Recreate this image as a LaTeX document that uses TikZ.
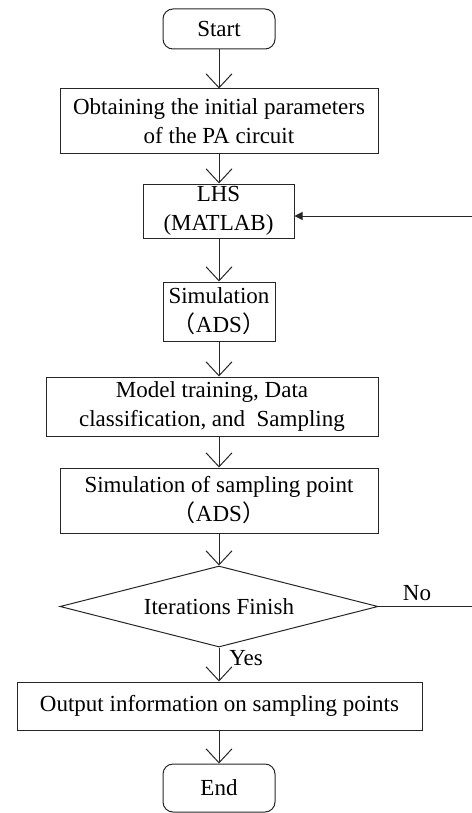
\documentclass[tikz,border=0pt]{standalone}
\usepackage{fontspec}
\setmainfont{Liberation Serif}
\newfontfamily\cjk{Noto Sans CJK SC}
\usetikzlibrary{shapes.geometric,arrows.meta}
\tikzset{
  box/.style={draw=black!85, line width=0.5pt, inner sep=0pt, align=center,
    font=\fontsize{11.5}{14.5}\selectfont},
  term/.style={box, rounded corners=5pt},
  dec/.style={draw=black!85, line width=0.5pt, diamond, aspect=3.9, inner sep=0pt,
    font=\fontsize{11.5}{14.5}\selectfont},
  flow/.style={draw=black!85, line width=0.5pt, -{Straight Barb[length=7pt,width=13pt,line width=0.5pt]}},
  back/.style={draw=black!85, line width=0.5pt, -{Triangle[length=4pt,width=4pt]}},
  lbl/.style={font=\fontsize{11.5}{14.5}\selectfont, inner sep=0pt}
}
\begin{document}
\begin{tikzpicture}[x=0.5pt,y=-0.5pt]
\useasboundingbox (0,0) rectangle (471,813);
\node[term, minimum width=56pt, minimum height=20pt] (start) at (219,29) {Start};
\node[box, minimum width=159pt, minimum height=32pt] (obtain) at (219,121) {Obtaining the initial parameters\\of the PA circuit};
\node[box, minimum width=75.5pt, minimum height=27pt] (lhs) at (218.5,211) {LHS\\(MATLAB)};
\node[box, minimum width=56pt, minimum height=29.5pt] (sim) at (219,311.5) {Simulation\\{\cjk （}ADS{\cjk ）}};
\node[box, minimum width=166pt, minimum height=29.5pt] (model) at (212,406.5) {Model training, Data\\classification, and\ \ Sampling};
\node[box, minimum width=159pt, minimum height=32.5pt] (simsp) at (219,500.5) {Simulation of sampling point\\{\cjk （}ADS{\cjk ）}};
\node[dec, minimum width=159pt, minimum height=40.5pt] (iter) at (219,606.5) {Iterations Finish};
\node[box, minimum width=202.5pt, minimum height=24pt] (out) at (219.5,706) {Output information on sampling points};
\node[term, minimum width=56pt, minimum height=24pt] (end) at (219,788) {End};

\draw[flow] (start) -- (obtain);
\draw[flow] (obtain) -- (lhs.north -| obtain);
\draw[flow] (lhs.south -| start) -- (sim);
\draw[flow] (sim) -- (sim.south |- model.north);
\draw[flow] (model.south -| sim) -- (simsp.north -| sim);
\draw[flow] (simsp.south -| sim) -- (iter);
\draw[flow] (iter) -- (out.north -| iter);
\draw[flow] (out.south -| iter) -- (end);

\coordinate (c1) at (474,606.5);
\coordinate (c2) at (474,216);
\coordinate (lin) at (lhs.east |- c2);
\draw[back] (iter.east) -- (c1) -- (c2) -- (lin);

\node[lbl, anchor=west] (yes) at (229,658) {Yes};
\node[lbl] (no) at (417,593) {No};
\end{tikzpicture}
\end{document}
